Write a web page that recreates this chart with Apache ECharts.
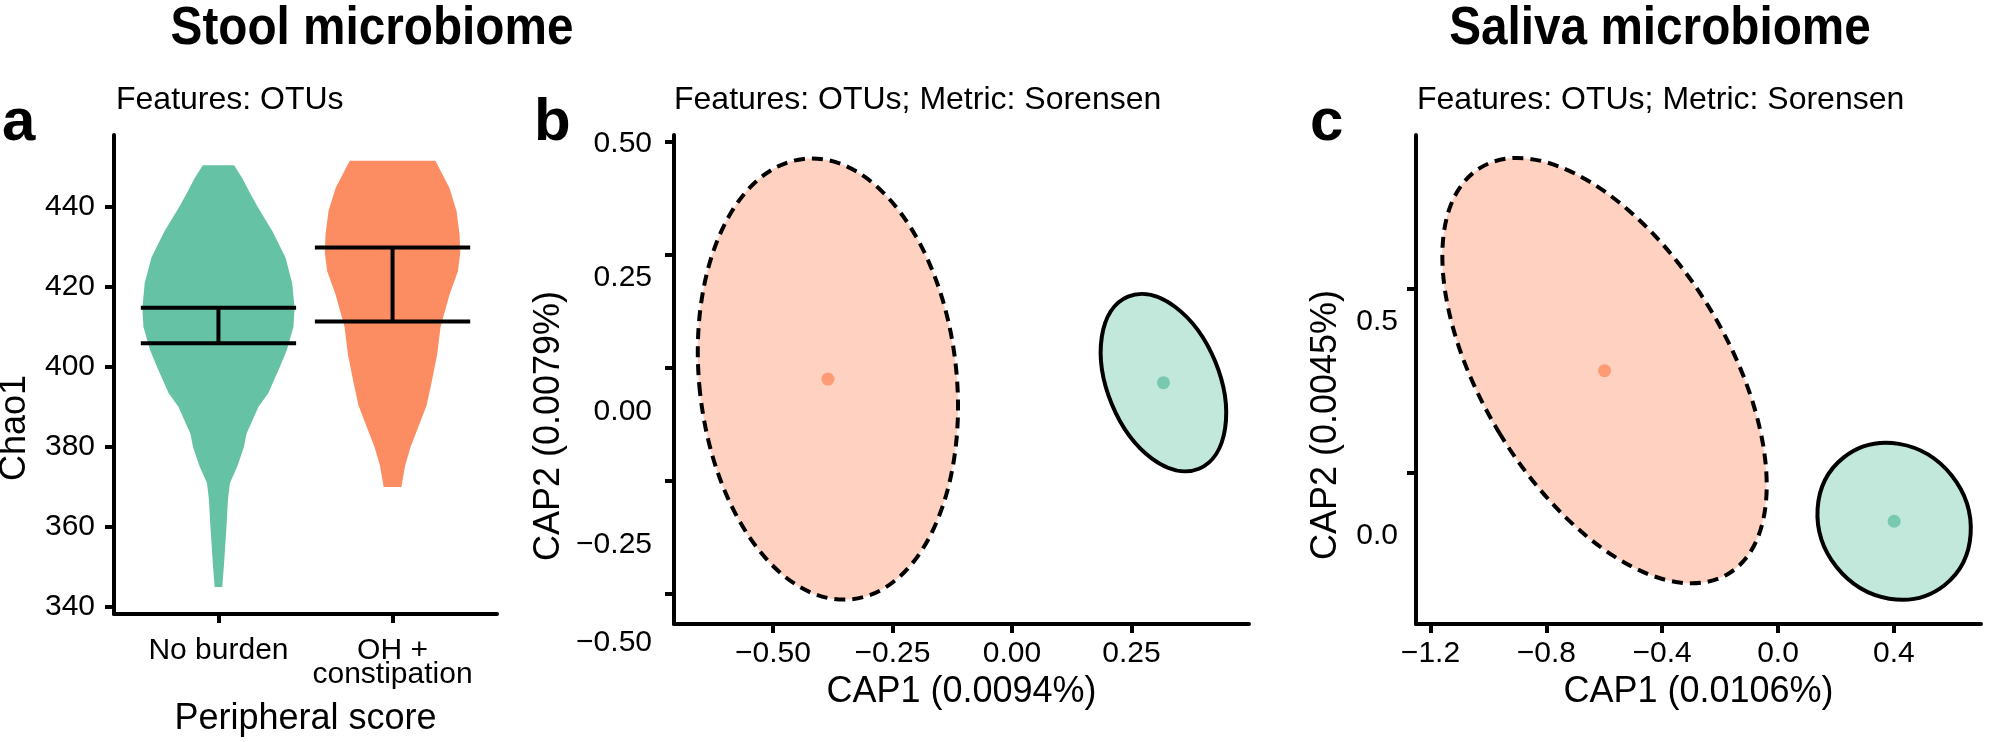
<!DOCTYPE html>
<html>
<head>
<meta charset="utf-8">
<script src="https://cdn.jsdelivr.net/npm/echarts@6/dist/echarts.min.js"></script>
<style>
html,body{margin:0;padding:0;background:#ffffff;}
#chart{width:1998px;height:742px;}
</style>
</head>
<body>
<div id="chart"></div>
<script>
// ---------------- data ----------------
// Group order everywhere: [No burden (green), OH + constipation (orange)]
const groups = ['No burden', 'OH +\nconstipation'];

// Panel a: Chao1 violins (value, half-width in category units)
const chaoTicks = [340, 360, 380, 400, 420, 440];
const greenViolinY = [345.0, 350.7, 360.0, 367.0, 371.0, 375.1, 379.9, 383.3, 390.0, 393.4, 399.9, 404.2, 410.0, 414.6, 420.8, 427.3, 433.8, 440.0, 443.6, 447.0, 450.3];
const greenViolinHalfWidth = [0.022, 0.032, 0.046, 0.055, 0.066, 0.108, 0.146, 0.161, 0.230, 0.286, 0.352, 0.393, 0.431, 0.437, 0.424, 0.385, 0.310, 0.224, 0.178, 0.138, 0.090];
const orangeViolinY = [370.0, 375.3, 379.9, 384.5, 390.3, 396.0, 403.0, 410.0, 418.0, 423.8, 428.4, 433.0, 438.8, 444.6, 451.4];
const orangeViolinHalfWidth = [0.051, 0.072, 0.103, 0.144, 0.195, 0.224, 0.256, 0.276, 0.327, 0.375, 0.389, 0.385, 0.368, 0.327, 0.246];
const errLow = [405.9, 411.3];
const errHigh = [414.7, 429.8];

// Panel b: stool CAP ordination ellipses
const bTicksX = [-0.5, -0.25, 0, 0.25];
const bTicksY = [-0.5, -0.25, 0, 0.25, 0.5];
const bCenterX = [0.317, -0.385];
const bCenterY = [-0.032, -0.024];
const bSemiX = [0.117, 0.269];
const bSemiY = [0.206, 0.490];
const bTilt = [22.4, 6.3];

// Panel c: saliva CAP ordination ellipses
const cTicksX = [-1.2, -0.8, -0.4, 0, 0.4];
const cTicksY = [0, 0.5];
const cCenterX = [0.401, -0.599];
const cCenterY = [-0.131, 0.278];
const cSemiX = [0.254, 0.422];
const cSemiY = [0.221, 0.646];
const cTilt = [38.5, 31.5];

// ---------------- styling ----------------
const FONT = '"Liberation Sans", Arial, Helvetica, sans-serif';
const GROUP_COLORS = ['#66c2a5', '#fc8d62'];
const GROUP_FILLS = ['rgba(102,194,165,0.4)', 'rgba(252,141,98,0.4)'];
const GROUP_DASH = [null, [11, 7]];
const LW = 4;
const ERR_HALF = 0.446;

const minus = s => s.replace('-', '\u2212');
const fmt = d => v => minus(Number(v).toFixed(d));
const lineStyle = { color: '#000', width: LW };
const labelText = { color: '#000', fontSize: 30, fontFamily: FONT };
const nameText = { color: '#000', fontSize: 36, fontFamily: FONT, lineHeight: 36 };

function mainX(gridIndex, min, max, ticks, formatter, name, gap, extraLabel) {
  return {
    gridIndex, type: 'value', min, max,
    axisLine: { show: true, onZero: false, lineStyle },
    axisTick: { show: true, customValues: ticks, length: 9, lineStyle },
    axisLabel: Object.assign({ customValues: ticks, formatter, margin: 15, lineHeight: 30 }, labelText, extraLabel || {}),
    splitLine: { show: false },
    name, nameLocation: 'middle', nameGap: gap, nameTextStyle: nameText
  };
}
function mainY(gridIndex, min, max, ticks, formatter, showLabels) {
  return {
    gridIndex, type: 'value', min, max,
    axisLine: { show: true, onZero: false, lineStyle },
    axisTick: { show: true, customValues: ticks, length: 9, lineStyle },
    axisLabel: Object.assign({ show: showLabels, customValues: ticks, formatter, margin: 19 }, labelText),
    splitLine: { show: false }
  };
}
// label-only axes: the reference prints the CAP2 tick labels offset from the tick marks
function labelOnlyY(gridIndex, min, max, ticks, formatter, margin) {
  return {
    gridIndex, type: 'value', min, max,
    axisLine: { show: false }, axisTick: { show: false }, splitLine: { show: false },
    axisLabel: Object.assign({ customValues: ticks, formatter, margin }, labelText)
  };
}
function hiddenX(gridIndex) {
  return { gridIndex, type: 'value', min: 0, max: 1, show: false };
}

function ellipseSeries(xi, cx, cy, sx, sy, tilt) {
  return {
    type: 'custom', xAxisIndex: xi, yAxisIndex: xi, silent: true,
    encode: { x: 0, y: 1 },
    data: cx.map((x, i) => [x, cy[i], sx[i], sy[i], tilt[i]]),
    renderItem: function (params, api) {
      const i = params.dataIndex;
      const c = api.coord([api.value(0), api.value(1)]);
      const s = api.size([api.value(2), api.value(3)]);
      return {
        type: 'ellipse', x: c[0], y: c[1], rotation: api.value(4) * Math.PI / 180,
        shape: { cx: 0, cy: 0, rx: s[0], ry: s[1] },
        style: { fill: GROUP_FILLS[i], stroke: '#000', lineWidth: LW, lineDash: GROUP_DASH[i] }
      };
    }
  };
}
function centroidSeries(xi, cx, cy) {
  return {
    type: 'scatter', xAxisIndex: xi, yAxisIndex: xi, silent: true, symbol: 'circle', symbolSize: 13,
    data: cx.map((x, i) => ({ value: [x, cy[i]], itemStyle: { color: GROUP_COLORS[i] } }))
  };
}
function txt(x, y, text, font, align, rotation, scaleX) {
  return {
    type: 'text', x, y, rotation: rotation || 0, scaleX: scaleX || 1, silent: true,
    style: { text, font, fill: '#000', align: align, textAlign: align, verticalAlign: 'middle', textVerticalAlign: 'middle' }
  };
}

const chart = echarts.init(document.getElementById('chart'), null, { renderer: 'canvas' });

const option = {
  backgroundColor: '#ffffff',
  animation: false,
  grid: [
    { left: 114, top: 135, width: 383, height: 489 },
    { left: 674, top: 135, width: 575, height: 489 },
    { left: 1416, top: 135, width: 565, height: 489 },
    { left: 674, top: 144, width: 575, height: 401 },
    { left: 1416, top: 322, width: 565, height: 214 },
    { left: 674, top: 543, width: 575, height: 100 }
  ],
  xAxis: [
    mainX(0, 0.4, 2.6, [1, 2], v => groups[Math.round(v) - 1], 'Peripheral score', 87, { lineHeight: 24, margin: 25 }),
    mainX(1, -0.707, 0.496, bTicksX, fmt(2), 'CAP1 (0.0094%)', 47),
    mainX(2, -1.25, 0.701, cTicksX, fmt(1), 'CAP1 (0.0106%)', 49),
    hiddenX(3), hiddenX(4), hiddenX(5)
  ],
  yAxis: [
    mainY(0, 338.29, 457.85, chaoTicks, v => String(v), true),
    mainY(1, -0.566, 0.516, bTicksY, fmt(2), false),
    mainY(2, -0.410, 0.918, cTicksY, fmt(1), false),
    labelOnlyY(3, -0.25, 0.5, bTicksY.filter(v => v >= -0.25), fmt(2), 22),
    labelOnlyY(4, 0, 0.5, cTicksY, fmt(1), 18),
    labelOnlyY(5, -0.5, -0.25, bTicksY.filter(v => v < -0.25), fmt(2), 22)
  ],
  series: [
    {
      type: 'custom', xAxisIndex: 0, yAxisIndex: 0, silent: true,
      encode: { x: 0, y: 1 },
      data: [[1, 400], [2, 400]],
      renderItem: function (params, api) {
        const i = params.dataIndex;
        const cat = api.value(0);
        const ys = i === 0 ? greenViolinY : orangeViolinY;
        const ws = i === 0 ? greenViolinHalfWidth : orangeViolinHalfWidth;
        const left = ys.map((y, k) => api.coord([cat - ws[k], y]));
        const right = ys.map((y, k) => api.coord([cat + ws[k], y])).reverse();
        return { type: 'polygon', shape: { points: left.concat(right) }, style: { fill: GROUP_COLORS[i] } };
      }
    },
    {
      type: 'custom', xAxisIndex: 0, yAxisIndex: 0, silent: true,
      encode: { x: 0, y: [1, 2] },
      data: errLow.map((lo, i) => [i + 1, lo, errHigh[i]]),
      renderItem: function (params, api) {
        const cat = api.value(0), lo = api.value(1), hi = api.value(2);
        const a = api.coord([cat - ERR_HALF, hi]), b = api.coord([cat + ERR_HALF, hi]);
        const c = api.coord([cat - ERR_HALF, lo]), d = api.coord([cat + ERR_HALF, lo]);
        const m1 = api.coord([cat, hi]), m2 = api.coord([cat, lo]);
        const st = { stroke: '#000', lineWidth: LW };
        return {
          type: 'group', children: [
            { type: 'line', shape: { x1: a[0], y1: a[1], x2: b[0], y2: b[1] }, style: st },
            { type: 'line', shape: { x1: c[0], y1: c[1], x2: d[0], y2: d[1] }, style: st },
            { type: 'line', shape: { x1: m1[0], y1: m1[1], x2: m2[0], y2: m2[1] }, style: st }
          ]
        };
      }
    },
    ellipseSeries(1, bCenterX, bCenterY, bSemiX, bSemiY, bTilt),
    centroidSeries(1, bCenterX, bCenterY),
    ellipseSeries(2, cCenterX, cCenterY, cSemiX, cSemiY, cTilt),
    centroidSeries(2, cCenterX, cCenterY)
  ],
  graphic: [
    txt(372, 29, 'Stool microbiome', `bold 53px ${FONT}`, 'center', 0, 0.9),
    txt(1660, 29, 'Saliva microbiome', `bold 53px ${FONT}`, 'center', 0, 0.9),
    txt(116, 100, 'Features: OTUs', `32px ${FONT}`, 'left'),
    txt(674, 100, 'Features: OTUs; Metric: Sorensen', `32px ${FONT}`, 'left'),
    txt(1417, 100, 'Features: OTUs; Metric: Sorensen', `32px ${FONT}`, 'left'),
    txt(2, 123, 'a', `bold 60px ${FONT}`, 'left'),
    txt(534, 123, 'b', `bold 60px ${FONT}`, 'left'),
    txt(1310, 123, 'c', `bold 60px ${FONT}`, 'left'),
    txt(15, 428, 'Chao1', `36px ${FONT}`, 'center', Math.PI / 2),
    txt(549, 426, 'CAP2 (0.0079%)', `36px ${FONT}`, 'center', Math.PI / 2),
    txt(1326, 425, 'CAP2 (0.0045%)', `36px ${FONT}`, 'center', Math.PI / 2)
  ]
};
chart.setOption(option);
</script>
</body>
</html>
